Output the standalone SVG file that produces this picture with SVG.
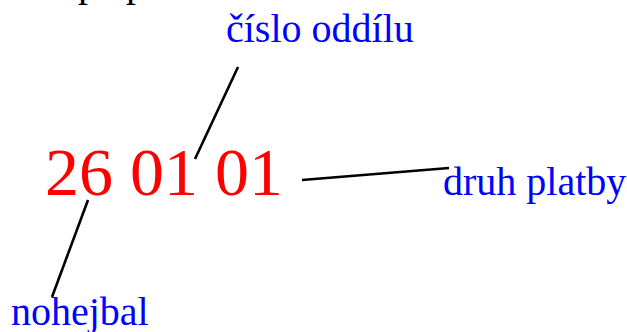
<svg xmlns="http://www.w3.org/2000/svg" width="627" height="332" viewBox="0 0 627 332">
<style>
.lbl{font-family:"Liberation Serif","Times New Roman",serif;font-size:40px;fill:#0000ff}
.num{font-family:"Liberation Serif","Times New Roman",serif;font-size:68px;fill:#ff0000}
.top{font-family:"Liberation Serif","Times New Roman",serif;font-size:40px;fill:#000000}
.ln{stroke:#000000;stroke-width:2.6;fill:none}
</style>
<rect width="627" height="332" fill="#ffffff"/>
<g id="cut-text">
<text class="top" x="78" y="-4.5">p</text>
<text class="top" x="126" y="-4.5">p</text>
</g>
<g id="code"><text class="num" x="45" y="195">26 01 01</text></g>
<g id="cislo-oddilu"><text class="lbl" x="226" y="42">číslo oddílu</text></g>
<g id="druh-platby"><text class="lbl" x="443" y="195">druh platby</text></g>
<g id="nohejbal"><text class="lbl" x="11" y="325">nohejbal</text></g>
<g id="connectors">
<line class="ln" x1="238" y1="67" x2="195" y2="159"/>
<line class="ln" x1="302" y1="180" x2="449" y2="168"/>
<line class="ln" x1="88" y1="200" x2="52" y2="297"/>
</g>
</svg>
